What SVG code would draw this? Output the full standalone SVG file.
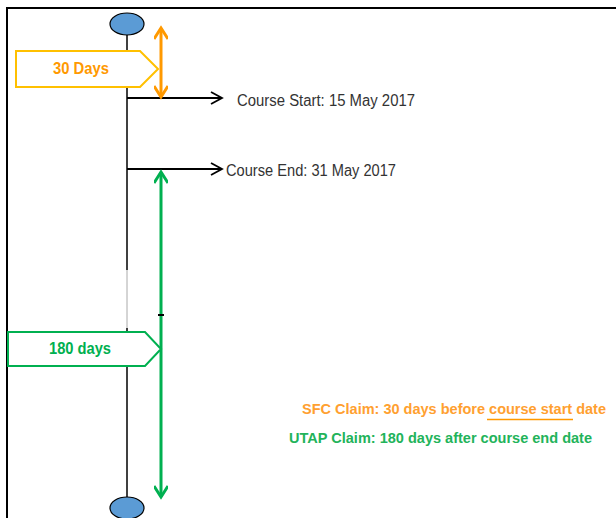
<svg xmlns="http://www.w3.org/2000/svg" width="616" height="518" viewBox="0 0 616 518">
<defs>
<style>
.tl{stroke:#000;stroke-width:1.5;fill:none}
.node{fill:#5B9BD5;stroke:#000;stroke-width:1.2}
.lbl{font-family:"Liberation Sans",Arial,sans-serif;font-size:16px;fill:#333}
.b{font-family:"Liberation Sans",Arial,sans-serif;font-size:16px;font-weight:bold}
.claim{font-family:"Liberation Sans",Arial,sans-serif;font-size:15px;font-weight:bold}
</style>
<marker id="blk" markerWidth="14" markerHeight="14" refX="12" refY="7" orient="auto" markerUnits="userSpaceOnUse">
<path d="M1,1 L12,7 L1,13" fill="none" stroke="#000" stroke-width="1.8"/>
</marker>
<marker id="org" markerWidth="18" markerHeight="14" refX="12" refY="7" orient="auto-start-reverse" markerUnits="userSpaceOnUse">
<path d="M1,0 L12,7 L1,14" fill="none" stroke="#FF9900" stroke-width="3"/>
</marker>
<marker id="grn" markerWidth="18" markerHeight="14" refX="12" refY="7" orient="auto-start-reverse" markerUnits="userSpaceOnUse">
<path d="M1,0 L12,7 L1,14" fill="none" stroke="#00B050" stroke-width="3"/>
</marker>
</defs>
<rect width="616" height="518" fill="#fff"/>
<path d="M7,518 V8 H616" fill="none" stroke="#000" stroke-width="2"/>
<g id="connectors">
<line class="tl" x1="127" y1="35" x2="127" y2="270"/>
<line x1="127" y1="270" x2="127" y2="328" stroke="#aaa" stroke-width="1"/>
<line class="tl" x1="127" y1="328" x2="127" y2="497"/>
<line x1="127" y1="98" x2="222" y2="98" stroke="#000" stroke-width="1.8" marker-end="url(#blk)"/>
<line x1="127" y1="169" x2="222" y2="169" stroke="#000" stroke-width="1.8" marker-end="url(#blk)"/>
<line x1="161" y1="28" x2="161" y2="97" stroke="#FF9900" stroke-width="3" marker-start="url(#org)" marker-end="url(#org)"/>
<line x1="161" y1="172" x2="161" y2="497" stroke="#00B050" stroke-width="3" marker-start="url(#grn)" marker-end="url(#grn)"/>
<line x1="158" y1="315" x2="164" y2="315" stroke="#000" stroke-width="2"/>
</g>
<g id="start-node"><ellipse class="node" cx="127" cy="24" rx="17" ry="11"/></g>
<g id="end-node"><ellipse class="node" cx="127" cy="508" rx="17" ry="11"/></g>
<g id="days30">
<path d="M16,51 H140 L158,69 L140,87 H16 Z" fill="#fff" stroke="#FFC000" stroke-width="2"/>
<text class="b" x="53" y="74" fill="#FF9900" textLength="56" lengthAdjust="spacingAndGlyphs">30 Days</text>
</g>
<g id="days180">
<path d="M8,332 H145 L161,349 L145,366 H8 Z" fill="#fff" stroke="#00B050" stroke-width="2"/>
<text class="b" x="49" y="354" fill="#00B050" textLength="62" lengthAdjust="spacingAndGlyphs">180 days</text>
</g>
<g id="course-start"><text class="lbl" x="237" y="106" textLength="178" lengthAdjust="spacingAndGlyphs">Course Start:  15 May 2017</text></g>
<g id="course-end"><text class="lbl" x="226" y="176" textLength="170" lengthAdjust="spacingAndGlyphs">Course End: 31 May 2017</text></g>
<g id="sfc-claim">
<text class="claim" x="302" y="414" fill="#FFA030" textLength="304" lengthAdjust="spacingAndGlyphs">SFC  Claim: 30 days before course start date</text>
<line x1="487" y1="419.5" x2="573" y2="419.5" stroke="#FF9900" stroke-width="1.5"/>
</g>
<g id="utap-claim">
<text class="claim" x="289" y="443" fill="#22B35A" textLength="303" lengthAdjust="spacingAndGlyphs">UTAP Claim: 180 days after course end date</text>
</g>
</svg>
